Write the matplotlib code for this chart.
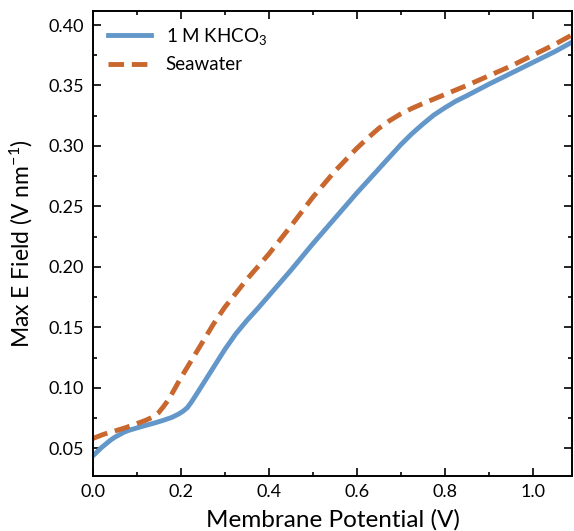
import matplotlib
matplotlib.use("Agg")
import matplotlib.pyplot as plt

# 1 M KHCO3
x_khco3 = [0.0, 0.01, 0.02, 0.03, 0.04, 0.05, 0.06, 0.07, 0.08, 0.1, 0.12,
           0.14, 0.16, 0.18, 0.195, 0.205, 0.215, 0.225, 0.24, 0.26, 0.28,
           0.3, 0.325, 0.35, 0.375, 0.4, 0.45, 0.5, 0.55, 0.6, 0.65, 0.7,
           0.725, 0.75, 0.775, 0.8, 0.825, 0.85, 0.9, 0.95, 1.0, 1.05, 1.1]
y_khco3 = [0.0435, 0.047, 0.0505, 0.0535, 0.0565, 0.059, 0.061, 0.063, 0.0645,
           0.0667, 0.0688, 0.0708, 0.073, 0.0755, 0.0782, 0.0805, 0.0835,
           0.0885, 0.097, 0.1085, 0.1200, 0.1315, 0.1445, 0.1555, 0.1655,
           0.176, 0.197, 0.219, 0.240, 0.261, 0.281, 0.301, 0.310, 0.318,
           0.3255, 0.3315, 0.337, 0.3415, 0.351, 0.360, 0.369, 0.378, 0.388]

# Seawater
x_sea = [0.0, 0.025, 0.05, 0.075, 0.1, 0.12, 0.135, 0.15, 0.16, 0.17, 0.18,
         0.19, 0.2, 0.225, 0.25, 0.275, 0.3, 0.35, 0.4, 0.45, 0.5, 0.55, 0.6,
         0.625, 0.65, 0.675, 0.7, 0.725, 0.75, 0.8, 0.85, 0.9, 0.95, 1.0,
         1.05, 1.1]
y_sea = [0.058, 0.0615, 0.0642, 0.067, 0.0703, 0.073, 0.0755, 0.0795, 0.084,
         0.089, 0.095, 0.1015, 0.108, 0.123, 0.138, 0.153, 0.1665, 0.1895,
         0.2105, 0.2335, 0.2575, 0.279, 0.298, 0.3065, 0.3145, 0.321, 0.3265,
         0.331, 0.335, 0.3425, 0.350, 0.358, 0.366, 0.375, 0.384, 0.394]

plt.rcParams["font.family"] = ["Lato", "DejaVu Sans"]
plt.rcParams["mathtext.fontset"] = "custom"
plt.rcParams["mathtext.rm"] = "Lato"
plt.rcParams["mathtext.it"] = "Lato"
plt.rcParams["mathtext.default"] = "regular"

fig = plt.figure(figsize=(5.74, 5.31), dpi=100)
ax = fig.add_axes([0.1615, 0.1036, 0.8357, 0.8757])

ax.plot(x_khco3, y_khco3, color="#6497c9", lw=3.5, label="1 M KHCO$_3$")
ax.plot(x_sea, y_sea, color="#c8672e", lw=3.5, ls="--", dashes=(3.2, 1.6),
        label="Seawater")

ax.set_xlim(0, 1.09)
ax.set_ylim(0.027, 0.4116)
ax.set_xticks([0.0, 0.2, 0.4, 0.6, 0.8, 1.0])
ax.set_xticks([0.1, 0.3, 0.5, 0.7, 0.9], minor=True)
ax.set_yticks([0.05, 0.10, 0.15, 0.20, 0.25, 0.30, 0.35, 0.40])
ax.set_yticks([0.075, 0.125, 0.175, 0.225, 0.275, 0.325, 0.375], minor=True)
ax.xaxis.set_major_formatter(matplotlib.ticker.FormatStrFormatter("%.1f"))
ax.yaxis.set_major_formatter(matplotlib.ticker.FormatStrFormatter("%.2f"))

ax.tick_params(which="both", direction="in", top=True, right=True,
               labelsize=13, width=1.2, pad=6)
ax.tick_params(which="major", length=5.5)
ax.tick_params(which="minor", length=3)
for sp in ax.spines.values():
    sp.set_linewidth(1.4)

ax.set_xlabel("Membrane Potential (V)", fontsize=17.5, labelpad=6)
ax.set_ylabel("Max E Field (V nm$^{-1}$)", fontsize=16.5, labelpad=10)

ax.legend(loc="upper left", frameon=False, fontsize=13.5, handlelength=2.3,
          borderaxespad=0.4)

fig.savefig("out.png", dpi=100)
